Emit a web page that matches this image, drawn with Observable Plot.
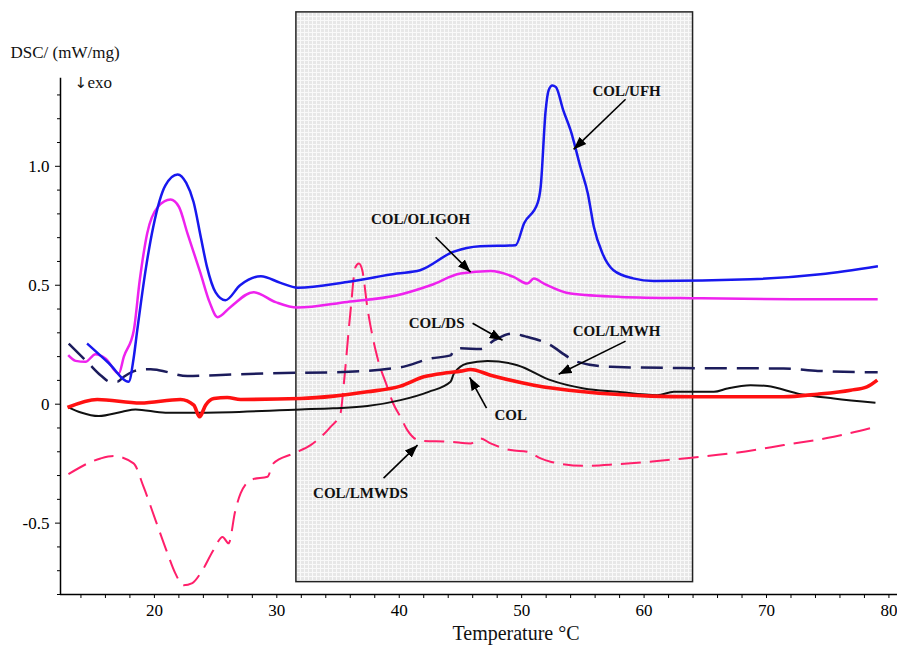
<!DOCTYPE html>
<html>
<head>
<meta charset="utf-8">
<script src="https://cdn.jsdelivr.net/npm/d3@7"></script>
<script src="https://cdn.jsdelivr.net/npm/@observablehq/plot@0.6"></script>
<style>
  html, body { margin: 0; padding: 0; background: #fff; }
  #chart { width: 897px; height: 646px; }
</style>
</head>
<body>
<div id="chart"></div>
<script>
// ---- Data (temperature °C, DSC mW/mg) ----
const ufhT = [14.5, 16.3, 17.9, 18.3, 18.6, 19.3, 19.9, 20.9, 21.9, 22.6, 23.2, 23.8, 24.3, 25.0, 25.8, 27.0, 28.7, 30.3, 31.7, 35.75, 39.8, 41.7, 44.4, 46.6, 49.5, 50.2, 51.3, 51.55, 51.96, 52.2, 52.5, 52.8, 53.4, 54.0, 54.8, 55.4, 55.9, 56.6, 57.5, 59.1, 60.8, 68.7, 74.4, 79.1];
const ufhV = [0.255, 0.171, 0.094, 0.192, 0.311, 0.57, 0.744, 0.92, 0.966, 0.93, 0.85, 0.70, 0.576, 0.47, 0.437, 0.50, 0.538, 0.51, 0.490, 0.514, 0.549, 0.563, 0.640, 0.664, 0.668, 0.761, 0.845, 0.912, 1.235, 1.319, 1.340, 1.333, 1.235, 1.151, 0.997, 0.887, 0.745, 0.634, 0.563, 0.529, 0.518, 0.525, 0.546, 0.580];

const oligT = [12.96, 13.56, 14.37, 15.19, 16.0, 17.09, 17.5, 18.32, 18.8, 19.41, 20.3, 21.32, 22.0, 22.7, 23.77, 24.5, 25.16, 26.2, 28.1, 29.9, 31.67, 35.75, 39.84, 42.56, 45.0, 47.46, 49.34, 50.46, 51.0, 51.82, 54.0, 58.08, 64.6, 72.8, 79.08];
const oligV = [0.206, 0.182, 0.178, 0.210, 0.192, 0.129, 0.199, 0.311, 0.52, 0.718, 0.83, 0.860, 0.83, 0.718, 0.550, 0.43, 0.366, 0.408, 0.471, 0.429, 0.406, 0.430, 0.458, 0.500, 0.549, 0.560, 0.535, 0.507, 0.528, 0.507, 0.465, 0.451, 0.445, 0.441, 0.441];

const dsT = [13.0, 14.64, 15.6, 16.41, 16.96, 17.5, 18.19, 19.0, 19.7, 20.36, 22.7, 25.0, 29.24, 34.6, 40.1, 42.56, 44.2, 44.46, 45.01, 46.64, 47.8, 49.2, 50.3, 52.1, 54.0, 54.55, 57.26, 63.2, 71.4, 74.2, 79.08];
const dsV = [0.255, 0.171, 0.122, 0.094, 0.094, 0.115, 0.136, 0.146, 0.147, 0.143, 0.118, 0.122, 0.130, 0.134, 0.155, 0.192, 0.205, 0.227, 0.235, 0.232, 0.27, 0.297, 0.285, 0.255, 0.192, 0.178, 0.157, 0.152, 0.150, 0.140, 0.134];

const lmwhT = [12.98, 14.0, 15.46, 17.37, 18.46, 20.9, 23.77, 31.94, 34.6, 37.4, 40.1, 42.4, 44.19, 44.46, 45.54, 47.2, 49.64, 52.36, 55.08, 57.81, 61.08, 62.43, 65.7, 66.8, 68.7, 70.07, 72.8, 75.5, 78.9];
const lmwhV = [-0.013, -0.035, -0.050, -0.032, -0.022, -0.036, -0.036, -0.022, -0.017, -0.008, 0.017, 0.052, 0.094, 0.128, 0.171, 0.182, 0.164, 0.101, 0.066, 0.052, 0.038, 0.052, 0.052, 0.066, 0.080, 0.076, 0.042, 0.024, 0.006];

const colT = [12.9, 15.33, 18.87, 22.13, 23.22, 23.69, 24.18, 24.86, 25.95, 27.04, 31.94, 34.66, 37.39, 40.1, 42.0, 43.9, 45.01, 45.83, 47.46, 51.0, 55.08, 60.53, 64.05, 71.4, 74.15, 76.87, 78.2, 79.05];
const colV = [-0.014, 0.020, 0.005, 0.020, -0.004, -0.053, -0.004, 0.024, 0.028, 0.020, 0.024, 0.034, 0.052, 0.076, 0.115, 0.132, 0.139, 0.146, 0.122, 0.080, 0.052, 0.034, 0.031, 0.031, 0.042, 0.059, 0.073, 0.101];

const lmwdsT = [12.98, 15.6, 16.66, 18.3, 19.11, 20.09, 21.07, 21.7, 22.38, 23.1, 23.77, 24.83, 25.57, 26.06, 26.6, 27.04, 28.0, 29.24, 29.7, 31.37, 32.76, 34.39, 35.2, 35.45, 36.0, 36.43, 36.7, 36.98, 37.39, 38.2, 39.02, 39.5, 40.1, 40.66, 41.74, 44.19, 45.83, 46.64, 47.46, 49.1, 50.46, 51.55, 52.36, 55.08, 57.81, 63.25, 67.34, 71.42, 75.5, 78.9];
const lmwdsV = [-0.294, -0.228, -0.218, -0.249, -0.347, -0.487, -0.627, -0.71, -0.761, -0.752, -0.711, -0.613, -0.558, -0.585, -0.45, -0.375, -0.316, -0.305, -0.25, -0.207, -0.172, -0.095, -0.039, 0.073, 0.381, 0.577, 0.591, 0.563, 0.409, 0.199, 0.073, 0.004, -0.053, -0.109, -0.154, -0.158, -0.165, -0.144, -0.165, -0.193, -0.200, -0.228, -0.242, -0.259, -0.252, -0.228, -0.205, -0.172, -0.137, -0.095];

// highlighted temperature window
const shadeT = [31.6, 64.0];
const shadeV = [-0.748, 1.647];

// axis ticks
const xMajor = [20, 30, 40, 50, 60, 70, 80];
const xMinor = d3.range(14, 81, 2).filter(d => d % 10 !== 0);
const yMajor = [-0.5, 0, 0.5, 1.0];
const yMinor = d3.range(-8, 14).map(d => d / 10).filter(d => Math.abs(d * 2 - Math.round(d * 2)) > 1e-9);

// annotation labels: text position and arrow (from -> to)
const labels = ["COL/UFH", "COL/OLIGOH", "COL/DS", "COL/LMWH", "COL", "COL/LMWDS"];
const labelT = [58.57, 41.74, 43.05, 57.75, 49.1, 36.84];
const labelV = [1.315, 0.777, 0.340, 0.307, -0.046, -0.374];
const arrowT1 = [58.49, 42.97, 45.99, 58.49, 47.13, 38.72];
const arrowV1 = [1.282, 0.702, 0.340, 0.265, -0.017, -0.311];
const arrowT2 = [54.24, 45.83, 48.44, 53.02, 45.75, 41.5];
const arrowV2 = [1.071, 0.555, 0.269, 0.126, 0.113, -0.172];

// ---- Build ----
const zip = (T, V) => T.map((t, i) => ({t, v: V[i]}));
const series = [
  {data: zip(lmwdsT, lmwdsV), stroke: "#ff1f6a", w: 2, dash: "20,9"},
  {data: zip(dsT, dsV), stroke: "#1c1c5c", w: 2.5, dash: "22,10"},
  {data: zip(lmwhT, lmwhV), stroke: "#111111", w: 2, dash: null},
  {data: zip(colT, colV), stroke: "#ff1111", w: 3.6, dash: null},
  {data: zip(oligT, oligV), stroke: "#ee22ee", w: 2.5, dash: null},
  {data: zip(ufhT, ufhV), stroke: "#1818ee", w: 2.5, dash: null}
];
const ann = labels.map((l, i) => ({l, t: labelT[i], v: labelV[i], x1: arrowT1[i], y1: arrowV1[i], x2: arrowT2[i], y2: arrowV2[i]}));

const xDom = [12.33, 80.7];
const yDom = [-0.8, 1.697];
const serif = "'Liberation Serif', 'DejaVu Serif', serif";

function headMarker(color, context) {
  const doc = (context && context.document) || document;
  const ns = "http://www.w3.org/2000/svg";
  const m = doc.createElementNS(ns, "marker");
  m.setAttribute("viewBox", "0 -5 12 10");
  m.setAttribute("refX", "12");
  m.setAttribute("refY", "0");
  m.setAttribute("markerWidth", "13");
  m.setAttribute("markerHeight", "11");
  m.setAttribute("markerUnits", "userSpaceOnUse");
  m.setAttribute("orient", "auto");
  const p = doc.createElementNS(ns, "path");
  p.setAttribute("d", "M0,-4.5L12,0L0,4.5Z");
  p.setAttribute("fill", "black");
  p.setAttribute("stroke", "none");
  m.appendChild(p);
  return m;
}

const marks = [
  Plot.rect([0], {x1: () => shadeT[0], x2: () => shadeT[1], y1: () => shadeV[0], y2: () => shadeV[1], fill: "url(#shadegrid)", stroke: "#222", strokeWidth: 1.5}),
  ...series.map(s => Plot.line(s.data, {x: "t", y: "v", stroke: s.stroke, strokeWidth: s.w, strokeDasharray: s.dash, curve: "monotone-x", strokeLinecap: "butt"})),
  Plot.link(ann, {x1: "x1", y1: "y1", x2: "x2", y2: "y2", stroke: "black", strokeWidth: 1.6, markerEnd: headMarker}),
  Plot.text(ann, {x: "t", y: "v", text: "l", fontFamily: serif, fontWeight: "bold", fontSize: 15, fill: "#111"}),
  // axis lines
  Plot.ruleX([xDom[0]], {y1: yDom[0], y2: 1.37, stroke: "black", strokeWidth: 1.5}),
  Plot.ruleY([yDom[0]], {x1: xDom[0], x2: xDom[1], stroke: "black", strokeWidth: 1.5}),
  Plot.axisX({ticks: xMajor, tickSize: 4, tickPadding: 5, fontSize: 17, fontFamily: serif, label: null, tickFormat: d => String(d)}),
  Plot.axisX({ticks: xMinor, tickSize: 4, label: null, tickFormat: () => ""}),
  Plot.axisY({ticks: yMajor, tickSize: 5, tickPadding: 6, fontSize: 17, fontFamily: serif, label: null, tickFormat: d => d === 0 ? "0" : (d < 0 ? "-" + Math.abs(d).toFixed(1) : d.toFixed(1))}),
  Plot.axisY({ticks: yMinor, tickSize: 3, label: null, tickFormat: () => ""}),
  Plot.text(["DSC/ (mW/mg)"], {frameAnchor: "top-left", dx: -50, dy: 45, textAnchor: "start", fontFamily: serif, fontSize: 17, fill: "#111"}),
  Plot.text(["\u2193"], {frameAnchor: "top-left", dx: 14, dy: 77, textAnchor: "start", fontFamily: "'DejaVu Sans', sans-serif", fontSize: 15, fill: "#111"}),
  Plot.text(["exo"], {frameAnchor: "top-left", dx: 27, dy: 75, textAnchor: "start", fontFamily: serif, fontSize: 17, fill: "#111"}),
  Plot.text(["Temperature \u00B0C"], {frameAnchor: "bottom", dx: 37, dy: 45, fontFamily: serif, fontSize: 20, fill: "#111"})
];

const chart = Plot.plot({
  width: 897,
  height: 646,
  marginTop: 0,
  marginBottom: 52,
  marginLeft: 60,
  marginRight: 0,
  style: {background: "white", color: "black", overflow: "visible"},
  x: {domain: xDom},
  y: {domain: yDom},
  marks
});

// pattern for the shaded window (fine light grid texture)
const svg = d3.select(chart);
const defs = svg.insert("defs", ":first-child");
const pat = defs.append("pattern").attr("id", "shadegrid").attr("patternUnits", "userSpaceOnUse").attr("width", 4).attr("height", 4);
pat.append("rect").attr("width", 4).attr("height", 4).attr("fill", "#e7e7e7");
pat.append("rect").attr("width", 4).attr("height", 1).attr("fill", "#f9f9f9");
pat.append("rect").attr("width", 1).attr("height", 4).attr("fill", "#f9f9f9");

document.getElementById("chart").appendChild(chart);
</script>
</body>
</html>
